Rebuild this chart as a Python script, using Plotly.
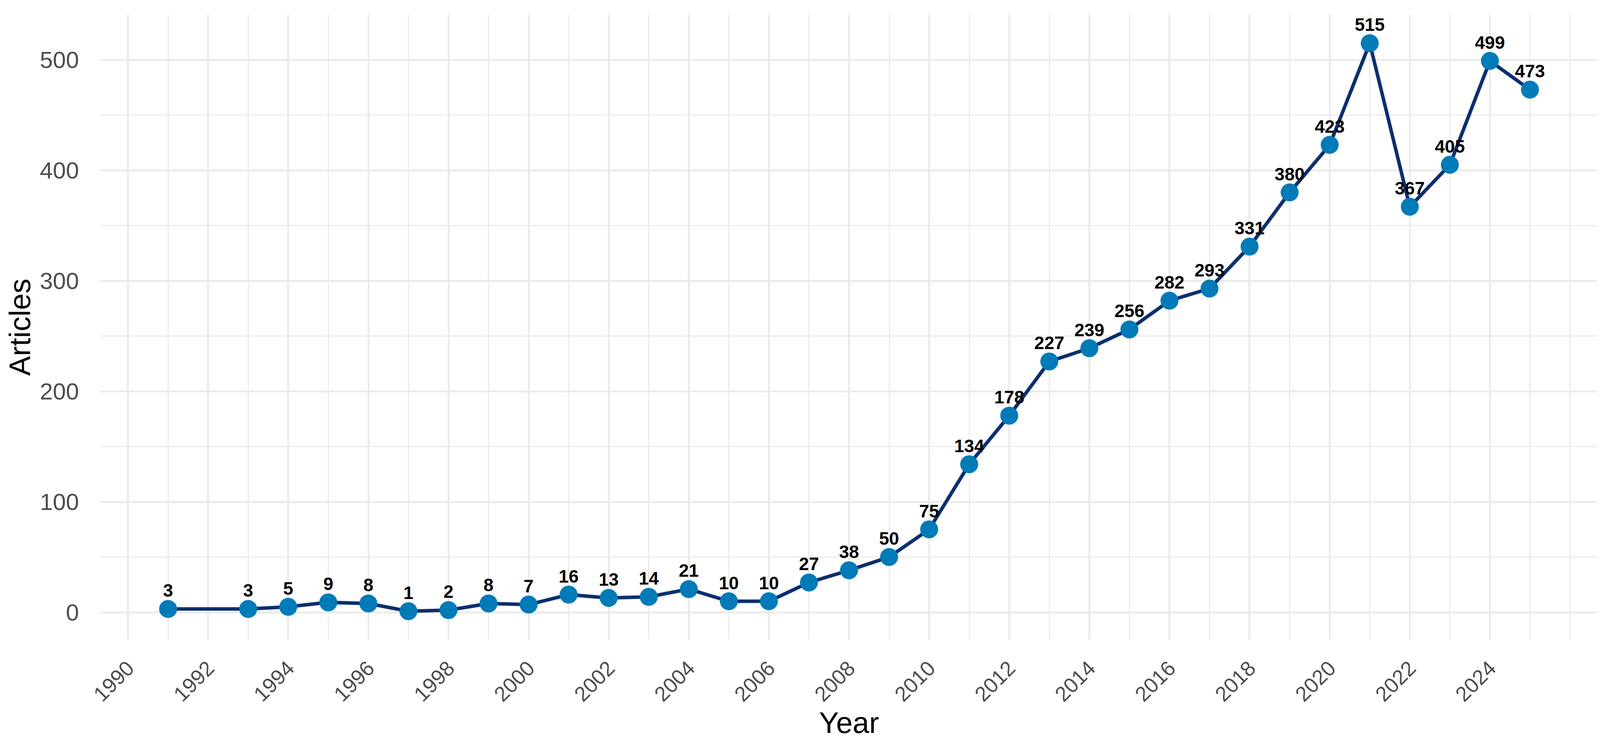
import plotly.graph_objects as go

years = [1991, 1993, 1994, 1995, 1996, 1997, 1998, 1999, 2000, 2001, 2002, 2003,
         2004, 2005, 2006, 2007, 2008, 2009, 2010, 2011, 2012, 2013, 2014, 2015,
         2016, 2017, 2018, 2019, 2020, 2021, 2022, 2023, 2024, 2025]
articles = [3, 3, 5, 9, 8, 1, 2, 8, 7, 16, 13, 14,
            21, 10, 10, 27, 38, 50, 75, 134, 178, 227, 239, 256,
            282, 293, 331, 380, 423, 515, 367, 405, 499, 473]

x_major_ticks = list(range(1990, 2025, 2))
x_tick_labels = [str(y) for y in x_major_ticks]
x_minor_ticks = list(range(1991, 2026, 2)) + [2026]
y_major_ticks = [0, 100, 200, 300, 400, 500]
y_minor_ticks = [50, 150, 250, 350, 450]

FONT = "Liberation Sans, Arial, Helvetica, sans-serif"
GRID = "#EBEBEB"

fig = go.Figure()
fig.add_trace(go.Scatter(
    x=years, y=articles,
    mode="lines+markers",
    line=dict(color="#0B2F6E", width=9),
    marker=dict(color="#007BB8", size=46, line=dict(width=0)),
    showlegend=False, hoverinfo="x+y",
))
# value labels (drawn on top of the line, placed just above each point)
fig.add_trace(go.Scatter(
    x=years, y=articles,
    mode="markers+text",
    marker=dict(size=30, opacity=0),
    text=[str(v) for v in articles],
    textposition="top center",
    textfont=dict(family=FONT, size=46, color="#000000", weight="bold"),
    cliponaxis=False,
    showlegend=False, hoverinfo="skip",
))

fig.update_layout(
    width=4110, height=1913,
    paper_bgcolor="white", plot_bgcolor="white",
    margin=dict(l=249, r=28, t=30, b=283),
    font=dict(family=FONT),
    xaxis=dict(
        range=[1989.31, 2026.69],
        tickmode="array", tickvals=x_major_ticks, ticktext=x_tick_labels,
        tickangle=-45,
        tickfont=dict(family=FONT, size=54, color="#4D4D4D"),
        ticklabelstandoff=30,
        showgrid=True, gridcolor=GRID, gridwidth=5,
        minor=dict(tickvals=x_minor_ticks, showgrid=True, gridcolor=GRID, gridwidth=2.5),
        zeroline=False, showline=False, ticks="",
        title=dict(text="Year", font=dict(family=FONT, size=76, color="#000000"), standoff=6),
    ),
    yaxis=dict(
        range=[-24.7, 540.7],
        tickmode="array", tickvals=y_major_ticks,
        tickfont=dict(family=FONT, size=60, color="#4D4D4D"),
        ticklabelstandoff=54,
        showgrid=True, gridcolor=GRID, gridwidth=5,
        minor=dict(tickvals=y_minor_ticks, showgrid=True, gridcolor=GRID, gridwidth=2.5),
        zeroline=False, showline=False, ticks="",
        title=dict(text="Articles", font=dict(family=FONT, size=76, color="#000000"), standoff=18),
    ),
)

fig.write_html("out.html")
